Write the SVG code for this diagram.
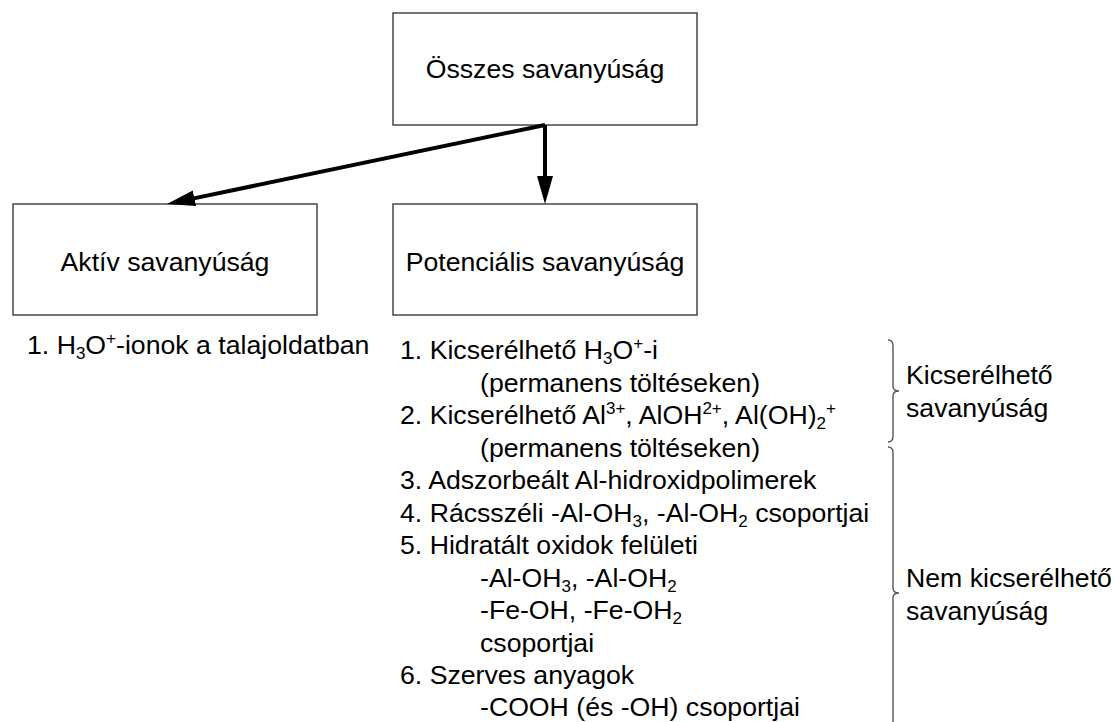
<svg xmlns="http://www.w3.org/2000/svg" width="1114" height="722" viewBox="0 0 1114 722">
  <style>
    text { font-family: "Liberation Sans", Arial, sans-serif; font-size: 26.67px; fill: #000; }
    .box { fill: #fff; stroke: #3a3a3a; stroke-width: 1.4; }
    .ctr { text-anchor: middle; }
    .sub { font-size: 17px; baseline-shift: -5px; }
    .sup { font-size: 17px; baseline-shift: 10px; }
    .edge { fill: none; stroke: #000; stroke-width: 4; marker-end: url(#head); }
    .brace { fill: none; stroke: #555; stroke-width: 1.4; }
  </style>
  <defs>
    <marker id="head" markerUnits="userSpaceOnUse" markerWidth="28" markerHeight="16" refX="8" refY="8" orient="auto" viewBox="0 0 28 16">
      <path d="M0,0 L28,8 L0,16 z" fill="#000"/>
    </marker>
  </defs>

  <!-- nodes -->
  <g id="osszes">
    <rect class="box" x="393" y="13" width="304" height="112"/>
    <text class="ctr" x="545" y="78">Összes savanyúság</text>
  </g>
  <g id="aktiv">
    <rect class="box" x="13" y="204" width="304" height="111"/>
    <text class="ctr" x="165" y="271">Aktív savanyúság</text>
  </g>
  <g id="potencialis">
    <rect class="box" x="393" y="204" width="304" height="111"/>
    <text class="ctr" x="545" y="271">Potenciális savanyúság</text>
  </g>

  <!-- connectors -->
  <g id="connectors">
    <line class="edge" x1="545" y1="125" x2="186.6" y2="199.9"/>
    <line class="edge" x1="545" y1="125" x2="545" y2="184"/>
  </g>

  <!-- active acidity list -->
  <g id="aktiv-lista">
    <text x="27" y="354">1. H<tspan class="sub">3</tspan>O<tspan class="sup">+</tspan>-ionok a talajoldatban</text>
  </g>

  <!-- potential acidity list -->
  <g id="potencialis-lista">
    <text x="400" y="359">1. Kicserélhető H<tspan class="sub">3</tspan>O<tspan class="sup">+</tspan>-i</text>
    <text x="480" y="391.5">(permanens töltéseken)</text>
    <text x="400" y="424">2. Kicserélhető Al<tspan class="sup">3+</tspan>, AlOH<tspan class="sup">2+</tspan>, Al(OH)<tspan class="sub">2</tspan><tspan class="sup">+</tspan></text>
    <text x="480" y="456.5">(permanens töltéseken)</text>
    <text x="400" y="489">3. Adszorbeált Al-hidroxidpolimerek</text>
    <text x="400" y="521.5">4. Rácsszéli -Al-OH<tspan class="sub">3</tspan>, -Al-OH<tspan class="sub">2</tspan> csoportjai</text>
    <text x="400" y="554">5. Hidratált oxidok felületi</text>
    <text x="480" y="586.5">-Al-OH<tspan class="sub">3</tspan>, -Al-OH<tspan class="sub">2</tspan></text>
    <text x="480" y="619">-Fe-OH, -Fe-OH<tspan class="sub">2</tspan></text>
    <text x="480" y="651.5">csoportjai</text>
    <text x="400" y="684">6. Szerves anyagok</text>
    <text x="480" y="716">-COOH (és -OH) csoportjai</text>
  </g>

  <!-- braces and group labels -->
  <g id="kicserelheto">
    <path class="brace" d="M888,340 Q893,340 893,346 L893,386 Q893,391 899,391 Q893,391 893,396 L893,436 Q893,442 888,442"/>
    <text x="906" y="384">Kicserélhető</text>
    <text x="906" y="417">savanyúság</text>
  </g>
  <g id="nem-kicserelheto">
    <path class="brace" d="M888,447 Q893,447 893,453 L893,588 Q893,593 899,593 Q893,593 893,598 L893,740"/>
    <text x="906" y="587">Nem kicserélhető</text>
    <text x="906" y="620">savanyúság</text>
  </g>
</svg>
